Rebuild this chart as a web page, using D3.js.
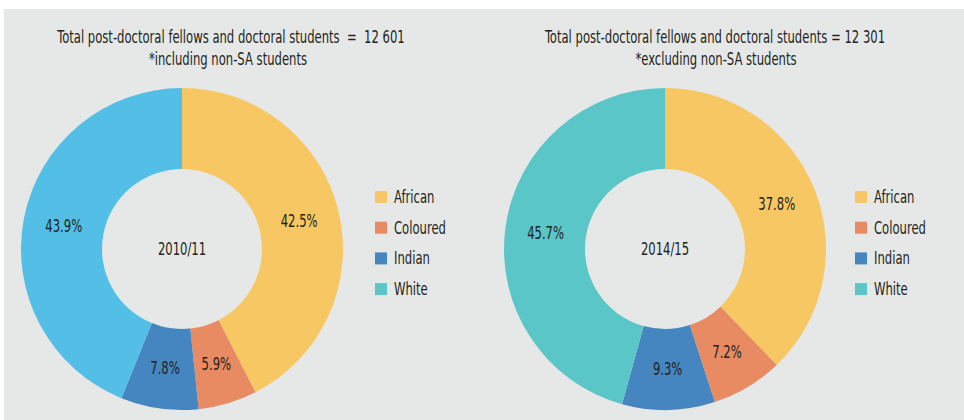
<!DOCTYPE html>
<html>
<head>
<meta charset="utf-8">
<script src="https://cdn.jsdelivr.net/npm/d3@7"></script>
<style>
  html, body { margin: 0; padding: 0; background: #ffffff; }
  svg { display: block; }
  text { font-family: "DejaVu Sans Condensed", "Liberation Sans Narrow", "Roboto", sans-serif; fill: #231f20; }
</style>
</head>
<body>
<svg id="chart" width="964" height="420"></svg>
<script>
const categories = ["African", "Coloured", "Indian", "White"];
const values2010 = [42.5, 5.9, 7.8, 43.9];
const values2014 = [37.8, 7.2, 9.3, 45.7];
const labels2010 = ["42.5%", "5.9%", "7.8%", "43.9%"];
const labels2014 = ["37.8%", "7.2%", "9.3%", "45.7%"];
const years = ["2010/11", "2014/15"];
const titles = [
  ["Total post-doctoral fellows and doctoral students  =  12 601", "*including non-SA students"],
  ["Total post-doctoral fellows and doctoral students = 12 301", "*excluding non-SA students"]
];
const colors2010 = ["#f6c762", "#e88a62", "#4686c0", "#53bfe7"];
const colors2014 = ["#f6c762", "#e88a62", "#4686c0", "#5ac6c8"];
const legendColors = ["#f6c762", "#e88a62", "#4686c0", "#5ac6c8"];

const SX = 0.76, FS = 17;
function addText(parent, x, y, str, anchor) {
  const g = parent.append("g").attr("transform", `translate(${x},${y})`);
  g.append("text").attr("transform", `scale(${SX},1)`)
    .attr("text-anchor", anchor || "middle").attr("dy", "0.35em")
    .style("font-size", FS + "px").style("white-space", "pre").text(str);
  return g;
}

const svg = d3.select("#chart");
svg.append("rect").attr("x", 4).attr("y", 9).attr("width", 960).attr("height", 411).attr("fill", "#e6e8e7");

const panels = [
  { cx: 182, cy: 249, values: values2010, labels: labels2010, colors: colors2010, year: years[0], title: titles[0], tx: 231, tx2: 228, legendX: 375 },
  { cx: 665, cy: 249, values: values2014, labels: labels2014, colors: colors2014, year: years[1], title: titles[1], tx: 715, tx2: 716, legendX: 855 }
];

const outerR = 161, innerR = 80;
const pie = d3.pie().sort(null).value(d => d);
const arc = d3.arc().innerRadius(innerR).outerRadius(outerR);

panels.forEach(p => {
  const g = svg.append("g").attr("transform", `translate(${p.cx},${p.cy})`);
  const arcs = pie(p.values);
  g.selectAll("path").data(arcs).enter().append("path")
    .attr("d", arc).attr("fill", (d, i) => p.colors[i]);
  arcs.forEach((d, i) => {
    const c = arc.centroid(d);
    addText(g, c[0], c[1], p.labels[i]);
  });
  addText(g, 0, 0, p.year);

  addText(svg, p.tx, 37, p.title[0]);
  addText(svg, p.tx2, 59, p.title[1]);

  const lg = svg.append("g").attr("transform", `translate(${p.legendX},0)`);
  categories.forEach((c, i) => {
    const y = 197 + i * 30.7;
    lg.append("rect").attr("x", 0).attr("y", y - 6).attr("width", 12).attr("height", 12).attr("fill", legendColors[i]);
    addText(lg, 19, y, c, "start");
  });
});
</script>
</body>
</html>
